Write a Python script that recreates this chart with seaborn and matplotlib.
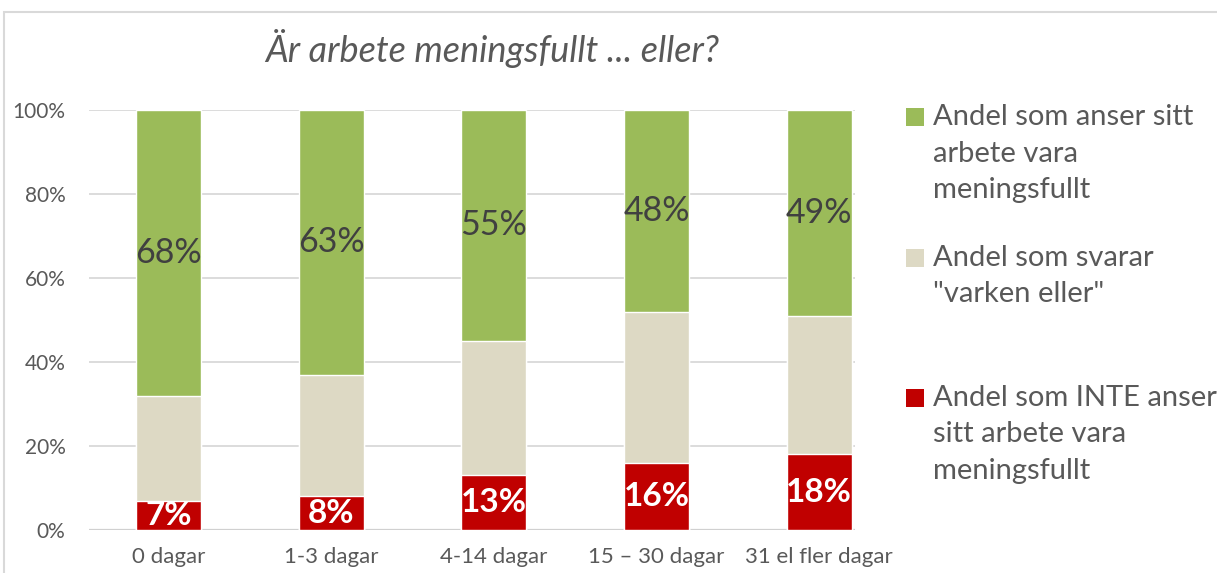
import matplotlib
matplotlib.use("Agg")
import matplotlib.pyplot as plt
import seaborn as sns
import pandas as pd
import numpy as np
from matplotlib.patches import Rectangle

categories = ["0 dagar", "1-3 dagar", "4-14 dagar", "15 \u2013 30 dagar", "31 el fler dagar"]
inte_meningsfullt = [7, 8, 13, 16, 18]
varken_eller = [25, 29, 32, 36, 33]
meningsfullt = [68, 63, 55, 48, 49]
series_labels = ["Andel som anser sitt\narbete vara\nmeningsfullt",
                 "Andel som svarar\n\"varken eller\"",
                 "Andel som INTE anser\nsitt arbete vara\nmeningsfullt"]
title = "\u00c4r arbete meningsfullt ... eller?"

GREEN = "#9BBB59"
BEIGE = "#DDD9C4"
RED = "#C00000"
TXT = "#595959"

sns.set_theme(style="white")
plt.rcParams["font.family"] = ["Lato", "DejaVu Sans"]

df = pd.DataFrame({
    "cat": categories,
    "red": inte_meningsfullt,
    "beige": varken_eller,
    "green": meningsfullt,
})
df["lvl1"] = df["red"]
df["lvl2"] = df["red"] + df["beige"]
df["lvl3"] = df["lvl2"] + df["green"]

fig = plt.figure(figsize=(12.17, 5.73), dpi=100)
ax = fig.add_axes([89/1217, 43/573, (855-89)/1217, (530-110)/573])

for y in [20, 40, 60, 80, 100]:
    ax.axhline(y, color="#D9D9D9", lw=1.3, zorder=0)
ax.axhline(0, color="#D0D0D0", lw=1.6, zorder=0)

w = 0.4
sns.barplot(data=df, x="cat", y="lvl3", color=GREEN, width=w, saturation=1, ax=ax, zorder=2)
sns.barplot(data=df, x="cat", y="lvl2", color=BEIGE, width=w, saturation=1, ax=ax, zorder=3)
sns.barplot(data=df, x="cat", y="lvl1", color=RED, width=w, saturation=1, ax=ax, zorder=4)

for i, row in df.iterrows():
    ax.text(i, row["lvl2"] + row["green"] / 2, f"{row['green']}%", ha="center", va="center",
            fontsize=24.5, color="#404040", zorder=5)
    ax.text(i, row["red"] / 2, f"{row['red']}%", ha="center", va="center",
            fontsize=24, color="white", fontweight="bold", zorder=5)

ax.set_xlim(-0.49, 4.22)
ax.set_ylim(0, 100)
ax.set_yticks([0, 20, 40, 60, 80, 100])
ax.set_yticklabels([f"{v}%" for v in [0, 20, 40, 60, 80, 100]])
ax.set_xlabel("")
ax.set_ylabel("")
ax.tick_params(axis="both", length=0, labelsize=16, labelcolor=TXT)
ax.tick_params(axis="y", pad=17, labelsize=15)
ax.tick_params(axis="x", pad=12)
for s in ax.spines.values():
    s.set_visible(False)

fig.text(492/1217, 1 - 48/573, title, ha="center", va="center", fontsize=26,
         style="italic", color=TXT)

# legend
colors = [GREEN, BEIGE, RED]
tops = [117, 258, 398]
for c, lab, t in zip(colors, series_labels, tops):
    fig.add_artist(Rectangle((906/1217, 1 - (t + 9)/573), 18/1217, 18/573,
                             transform=fig.transFigure, facecolor=c, edgecolor="none"))
    fig.text(933/1217, 1 - (t - 13)/573, lab, ha="left", va="top", fontsize=21,
             color=TXT, linespacing=1.5)

# chart frame
fig.add_artist(Rectangle((4/1217, -0.01), 1.2, 1 - 12/573 + 0.01, transform=fig.transFigure,
                         facecolor="none", edgecolor="#D9D9D9", lw=1.5))

fig.savefig("out.png", dpi=100)
